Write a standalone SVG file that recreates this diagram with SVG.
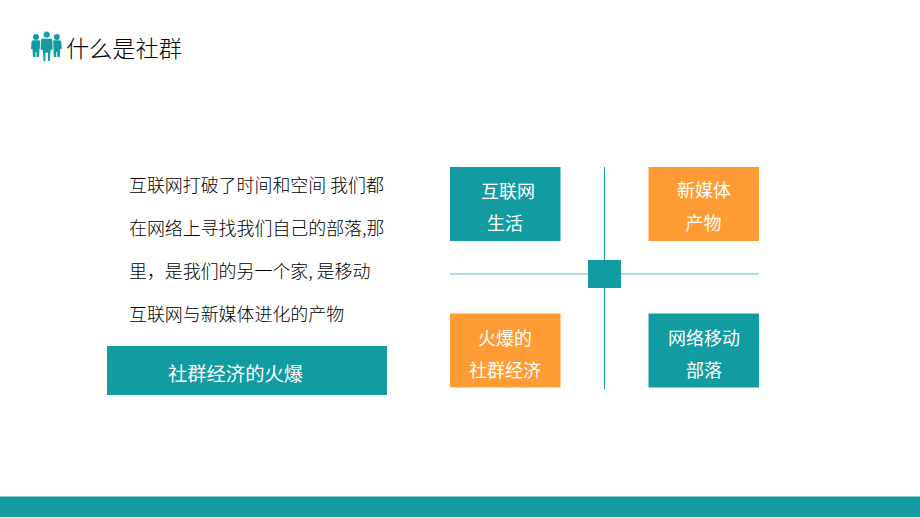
<svg xmlns="http://www.w3.org/2000/svg" width="920" height="518" viewBox="0 0 920 518">
<style>
text{font-family:"Noto Sans CJK SC","Noto Sans",sans-serif;font-size:18px}
.d text,text.d{fill:#000;font-weight:300}
.p{font-size:17.930px}
.w{fill:#fff}
.m{text-anchor:middle}
.t{fill:#129ca1}
.o{fill:#ff9b34}
.l{stroke:#129ca1;stroke-width:1;fill:none}
.h{stroke:#8fd3d6;stroke-width:1.5;fill:none}
</style>
<rect width="920" height="518" fill="#fff"/>
<g id="footer"><rect class="t" x="0" y="496.500" width="920" height="20.500"/></g>
<g id="title">
<g id="people-icon" class="t">
<circle cx="36" cy="37" r="3"/><path d="M31.500 42q0-1.800 2-1.800h5q2 0 2 1.800l.5 7h-1.500l-.5 8h-2.500v-5h-1v5h-2.500l-.5-8h-1.500z"/>
<circle cx="56.800" cy="37" r="3"/><path d="M52.300 42q0-1.800 2-1.800h5q2 0 2 1.800l.5 7h-1.500l-.5 8h-2.500v-5h-1v5h-2.500l-.5-8h-1.500z"/>
<circle cx="46.700" cy="34.700" r="3.400" stroke="#fff" stroke-width=".6"/><path d="M40.700 40.200q0-2 2-2h8q2 0 2 2l.5 10h-2.200l-.8 11.300h-2.700v-8.500h-1.600v8.500h-2.700l-.8-11.300h-2.200z" stroke="#fff" stroke-width=".8"/>
</g>
<text class="d" x="66" y="57" style="font-size:23.200px">什么是社群</text>
</g>
<g id="paragraph" class="d">
<text class="p" x="129" y="192">互联网打破了时间和空间 我们都</text>
<text class="p" x="129" y="235">在网络上寻找我们自己的部落,那</text>
<text class="p" x="129" y="278">里，是我们的另一个家, 是移动</text>
<text class="p" x="129" y="321">互联网与新媒体进化的产物</text>
</g>
<g id="banner"><rect class="t" x="107" y="346" width="280" height="49"/><text class="w m" x="235.500" y="381" style="font-size:19.300px">社群经济的火爆</text></g>
<g id="connectors">
<line class="l" x1="604.500" y1="167" x2="604.500" y2="389"/>
<line class="h" x1="450" y1="274" x2="759" y2="274"/>
</g>
<g id="center"><rect class="t" x="588" y="260" width="33" height="28"/></g>
<g id="n1"><rect class="t" x="450" y="167" width="110.500" height="74"/><text class="w m" x="508" y="198">互联网</text><text class="w m" x="505" y="230">生活</text></g>
<g id="n2"><rect class="o" x="648.500" y="167" width="110.500" height="74"/><text class="w m" x="704" y="197">新媒体</text><text class="w m" x="703.500" y="230">产物</text></g>
<g id="n3"><rect class="o" x="450" y="313.500" width="110.500" height="74"/><text class="w m" x="505" y="345">火爆的</text><text class="w m" x="505" y="377">社群经济</text></g>
<g id="n4"><rect class="t" x="648.500" y="313.500" width="110.500" height="74"/><text class="w m" x="704" y="345">网络移动</text><text class="w m" x="704" y="377">部落</text></g>
</svg>
